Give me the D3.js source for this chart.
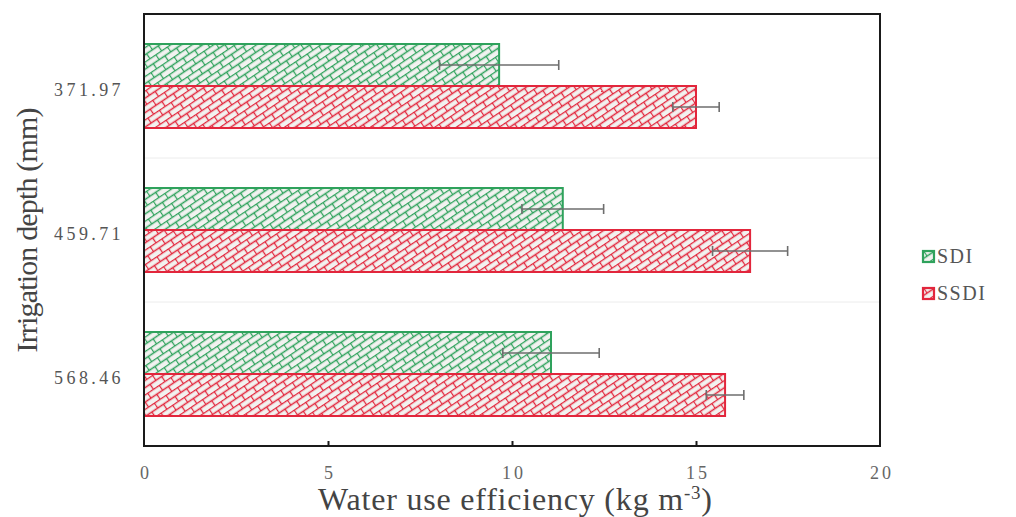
<!DOCTYPE html>
<html>
<head>
<meta charset="utf-8">
<script src="https://cdnjs.cloudflare.com/ajax/libs/d3/7.8.5/d3.min.js"></script>
<style>
    body { margin: 0; background: #ffffff; }
    svg { display: block; }
</style>
</head>
<body>
<script>

// data
var depths = ['371.97', '459.71', '568.46'];
var seriesNames = ['SDI', 'SSDI'];
var sdiValues = [9.65, 11.38, 11.06];
var sdiErrors = [1.62, 1.11, 1.31];
var ssdiValues = [15.0, 16.47, 15.79];
var ssdiErrors = [0.63, 1.02, 0.51];
var xTicks = [0, 5, 10, 15, 20];

d3.select(window).on('load', init);

function init() {

    var w = 1016;
    var h = 517;

    var colors = {SDI: '#2fa25c', SSDI: '#e2263c'};
    var serif = '"Liberation Serif", "Times New Roman", serif';

    // build rows from the arrays above
    var rows = [];
    depths.forEach(function(dep, i) {
        rows.push({depth: dep, series: 'SDI', value: sdiValues[i], err: sdiErrors[i]});
        rows.push({depth: dep, series: 'SSDI', value: ssdiValues[i], err: ssdiErrors[i]});
    });

    var svg = d3.select('body')
        .append('svg')
        .attr('width', w)
        .attr('height', h);

    // brick patterns
    var defs = svg.append('defs');
    seriesNames.forEach(function(s) {
        var p = defs.append('pattern')
            .attr('id', 'brick-' + s)
            .attr('patternUnits', 'userSpaceOnUse')
            .attr('width', 14)
            .attr('height', 12)
            .attr('patternTransform', 'rotate(-34)');
        p.append('rect')
            .attr('width', 14).attr('height', 12)
            .attr('fill', '#f2f2f0');
        p.append('path')
            .attr('d', 'M0,0.5H14 M0,6.5H14 M0.5,0.5V6.5 M7.5,6.5V12')
            .attr('stroke', colors[s])
            .attr('stroke-width', 1.3)
            .attr('fill', 'none');
    });

    var left = 144, right = 880, top = 14, bottom = 446;

    var xScale = d3.scaleLinear()
        .domain([0, 20])
        .range([left, right]);

    var yScale = d3.scaleBand()
        .domain(depths)
        .range([top, bottom]);

    var yInner = d3.scaleBand()
        .domain(seriesNames)
        .range([30, 114]);

    // faint separators between groups
    svg.selectAll('line.sep')
        .data(depths.slice(1))
        .enter()
        .append('line')
        .attr('class', 'sep')
        .attr('x1', left).attr('x2', right)
        .attr('y1', function(d){ return yScale(d); })
        .attr('y2', function(d){ return yScale(d); })
        .attr('stroke', '#ececec')
        .attr('stroke-width', 1);

    // bars
    svg.selectAll('rect.bar')
        .data(rows)
        .enter()
        .append('rect')
        .attr('class', 'bar')
        .attr('x', xScale(0))
        .attr('y', function(d){ return yScale(d.depth) + yInner(d.series); })
        .attr('width', function(d){ return xScale(d.value) - xScale(0); })
        .attr('height', yInner.bandwidth())
        .attr('fill', function(d){ return 'url(#brick-' + d.series + ')'; })
        .attr('stroke', function(d){ return colors[d.series]; })
        .attr('stroke-width', 2);

    // error bars
    var midY = function(d){ return yScale(d.depth) + yInner(d.series) + yInner.bandwidth() / 2; };

    var eb = svg.selectAll('g.err')
        .data(rows)
        .enter()
        .append('g')
        .attr('class', 'err')
        .attr('stroke', '#6e6e6e')
        .attr('stroke-width', 1.6);

    eb.append('line')
        .attr('x1', function(d){ return xScale(d.value - d.err); })
        .attr('x2', function(d){ return xScale(d.value + d.err); })
        .attr('y1', midY)
        .attr('y2', midY);

    eb.append('line')
        .attr('x1', function(d){ return xScale(d.value - d.err); })
        .attr('x2', function(d){ return xScale(d.value - d.err); })
        .attr('y1', function(d){ return midY(d) - 5; })
        .attr('y2', function(d){ return midY(d) + 5; });

    eb.append('line')
        .attr('x1', function(d){ return xScale(d.value + d.err); })
        .attr('x2', function(d){ return xScale(d.value + d.err); })
        .attr('y1', function(d){ return midY(d) - 5; })
        .attr('y2', function(d){ return midY(d) + 5; });

    // frame
    svg.append('rect')
        .attr('x', left).attr('y', top)
        .attr('width', right - left).attr('height', bottom - top)
        .attr('fill', 'none')
        .attr('stroke', '#1a1a1a')
        .attr('stroke-width', 2);

    // x axis, ticks pointing inward
    var xAxis = d3.axisBottom()
        .scale(xScale)
        .tickValues(xTicks)
        .tickSize(-5)
        .tickPadding(20);

    var gx = svg.append('g')
        .attr('class', 'axis')
        .attr('transform', 'translate(0,' + bottom + ')')
        .call(xAxis);
    gx.select('.domain').remove();
    gx.selectAll('.tick line')
        .attr('stroke', '#1a1a1a')
        .attr('stroke-width', 2)
        .attr('display', function(d){ return (d === 0 || d === 20) ? 'none' : null; });
    gx.selectAll('.tick text')
        .attr('font-family', serif)
        .attr('font-size', 18)
        .attr('letter-spacing', 3)
        .attr('dx', 1.5)
        .attr('fill', '#666');

    // y axis labels
    var yAxis = d3.axisLeft()
        .scale(yScale)
        .tickSize(0)
        .tickPadding(20);

    var gy = svg.append('g')
        .attr('class', 'axis')
        .attr('transform', 'translate(' + left + ',0)')
        .call(yAxis);
    gy.select('.domain').remove();
    gy.selectAll('.tick text')
        .attr('font-family', serif)
        .attr('font-size', 18)
        .attr('letter-spacing', 3.4)
        .attr('dy', '0.55em')
        .attr('fill', '#555');

    // axis titles
    var xt = svg.append('text')
        .attr('x', 515)
        .attr('y', 510)
        .attr('text-anchor', 'middle')
        .attr('font-family', serif)
        .attr('font-size', 32)
        .attr('fill', '#444')
        .attr('textLength', 394)
        .attr('lengthAdjust', 'spacing');
    xt.append('tspan').text('Water use efficiency (kg m');
    xt.append('tspan').attr('dy', -11).attr('font-size', 19).text('-3');
    xt.append('tspan').attr('dy', 11).text(')');

    svg.append('text')
        .attr('transform', 'translate(37,230) rotate(-90)')
        .attr('text-anchor', 'middle')
        .attr('font-family', serif)
        .attr('font-size', 30)
        .attr('fill', '#444')
        .attr('textLength', 245)
        .attr('lengthAdjust', 'spacing')
        .text('Irrigation depth (mm)');

    // legend
    var lg = svg.selectAll('g.legend')
        .data(seriesNames)
        .enter()
        .append('g')
        .attr('class', 'legend')
        .attr('transform', function(d, i){ return 'translate(923,' + (251 + i * 37) + ')'; });

    lg.append('rect')
        .attr('width', 11).attr('height', 11)
        .attr('fill', function(d){ return 'url(#brick-' + d + ')'; })
        .attr('stroke', function(d){ return colors[d]; })
        .attr('stroke-width', 2.2);

    lg.append('text')
        .attr('x', 14)
        .attr('y', 12)
        .attr('font-family', serif)
        .attr('font-size', 20)
        .attr('letter-spacing', 1.5)
        .attr('fill', '#555')
        .text(function(d){ return d; });
}
</script>
</body>
</html>
